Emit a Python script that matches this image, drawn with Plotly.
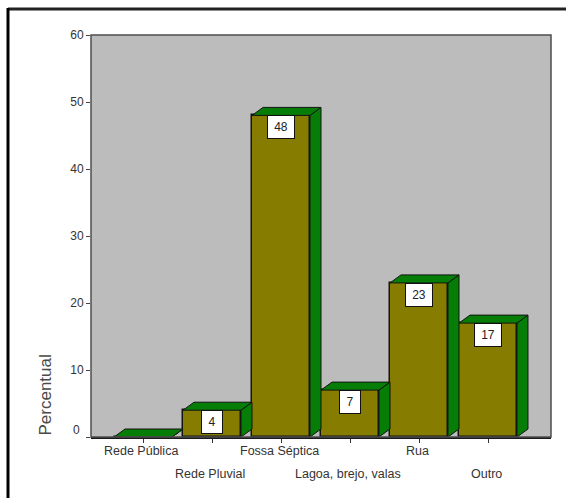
import plotly.graph_objects as go

categories = ["Rede Pública", "Rede Pluvial", "Fossa Séptica", "Lagoa, brejo, valas", "Rua", "Outro"]
values = [0, 4, 48, 7, 23, 17]
value_labels = ["", "4", "48", "7", "23", "17"]
y_ticks = [0, 10, 20, 30, 40, 50, 60]
y_tick_labels = ["", "10", "20", "30", "40", "50", "60"]

W, H = 566, 498
PLOT_L, PLOT_R, PLOT_T, PLOT_B = 91, 551, 35, 437
X_MIN, X_MAX = -0.754, 5.913
Y_MIN, Y_MAX = 0, 60

FRONT = "#857c00"
SIDE = "#067d06"
EDGE = "#141414"
BAR_W = 0.84
# Extrusion of each column, expressed in axis units.
DX = 11 / ((PLOT_R - PLOT_L) / (X_MAX - X_MIN))
DY = 8 / ((PLOT_B - PLOT_T) / (Y_MAX - Y_MIN))


def paper_x(px):
    return (px - PLOT_L) / (PLOT_R - PLOT_L)


def paper_y(px):
    return (PLOT_B - px) / (PLOT_B - PLOT_T)


fig = go.Figure()

# Extruded side and top faces of every column.
for i, v in enumerate(values):
    l, r = i - BAR_W / 2, i + BAR_W / 2
    fig.add_trace(go.Scatter(
        x=[r, r + DX, r + DX, r, r], y=[v, v + DY, DY, 0, v],
        mode="lines", fill="toself", fillcolor=SIDE,
        line=dict(color=EDGE, width=1), hoverinfo="skip", showlegend=False))
    fig.add_trace(go.Scatter(
        x=[l, l + DX, r + DX, r, l], y=[v, v + DY, v + DY, v, v],
        mode="lines", fill="toself", fillcolor=SIDE,
        line=dict(color=EDGE, width=1), hoverinfo="skip", showlegend=False))

# Front faces.
fig.add_trace(go.Bar(
    x=list(range(len(categories))), y=values, width=BAR_W,
    marker=dict(color=FRONT, line=dict(color=EDGE, width=1.5)),
    showlegend=False, hoverinfo="skip"))

# Boxed value labels sit just below the top of each column.
for i, (v, t) in enumerate(zip(values, value_labels)):
    if not t:
        continue
    fig.add_annotation(
        x=i, y=v, text=t, showarrow=False, yanchor="top", yshift=0,
        bgcolor="white", bordercolor="#111111", borderwidth=1,
        width=18 if len(t) == 1 else 24, height=20,
        font=dict(family="Liberation Sans", size=12, color="#222222"))

# Category labels alternate between two rows.
for i, c in enumerate(categories):
    fig.add_annotation(
        x=i, y=0, text=c, showarrow=False, yanchor="top", xshift=-2,
        yshift=-5 if i % 2 == 0 else -28,
        font=dict(family="Liberation Sans", size=12.5, color="#333333"))

# The zero label is lifted clear of the baseline.
fig.add_annotation(
    xref="paper", yref="y", x=paper_x(82), y=0, text="0", showarrow=False,
    xanchor="right", yanchor="middle", yshift=7, xshift=0,
    font=dict(family="Liberation Sans", size=12, color="#333333"))

fig.add_annotation(
    xref="paper", yref="paper", x=paper_x(45), y=paper_y(438), text="Percentual", textangle=-90,
    showarrow=False, xanchor="center", yanchor="bottom",
    font=dict(family="Liberation Sans", size=17, color="#4a4a4a"))

# Plot border, drawn under the darker baseline.
fig.add_shape(type="rect", xref="paper", yref="paper", x0=0, x1=1, y0=0, y1=1,
              line=dict(color="#4d4d4d", width=1.5), layer="above")

# Page rule along the top and left edges.
fig.add_shape(type="line", xref="paper", yref="paper",
              x0=paper_x(8), x1=paper_x(566), y0=paper_y(9), y1=paper_y(9),
              line=dict(color="#222222", width=3))
fig.add_shape(type="line", xref="paper", yref="paper",
              x0=paper_x(8), x1=paper_x(8), y0=paper_y(498), y1=paper_y(8),
              line=dict(color="black", width=3))

fig.update_layout(
    width=W, height=H, autosize=False,
    margin=dict(l=PLOT_L, r=W - PLOT_R, t=PLOT_T, b=H - PLOT_B, autoexpand=False),
    paper_bgcolor="white", plot_bgcolor="#bcbcbc", bargap=0,
    xaxis=dict(range=[X_MIN, X_MAX], tickvals=list(range(len(categories))), ticktext=[""] * 6,
               ticks="outside", ticklen=4, tickcolor="#333333", showgrid=False, zeroline=False,
               showline=True, linecolor="#1a1a1a", linewidth=1.5),
    yaxis=dict(range=[Y_MIN, Y_MAX], tickvals=y_ticks, ticktext=y_tick_labels,
               ticks="outside", ticklen=4, tickcolor="#444444",
               showgrid=False, zeroline=False, showline=False,
               tickfont=dict(family="Liberation Sans", size=12, color="#333333")),
)

fig.write_html("out.html")
